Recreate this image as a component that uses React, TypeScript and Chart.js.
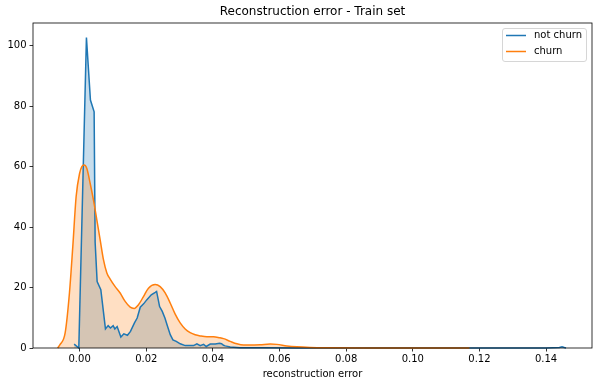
import React, { useEffect, useRef } from "react";
import { Chart, registerables } from "chart.js";

Chart.register(...registerables);

const TITLE = "Reconstruction error - Train set";
const X_LABEL = "reconstruction error";
const SERIES_NAMES = ["not churn", "churn"];

const notChurnX = [
  -0.00165, -0.00025, 0.00204, 0.00324, 0.00435, 0.00465, 0.00525, 0.00636, 0.00775, 0.00856,
  0.00925, 0.01006, 0.01057, 0.01126, 0.01237, 0.01327, 0.01435, 0.01526, 0.01646, 0.01727,
  0.0182, 0.0192, 0.0202, 0.0215, 0.0227, 0.0231, 0.024, 0.0248, 0.0256, 0.0264,
  0.0272, 0.028, 0.029, 0.0302, 0.0317, 0.0332, 0.0342, 0.0352, 0.0362, 0.0372,
  0.038, 0.0392, 0.0407, 0.042, 0.0426, 0.0432, 0.0437, 0.0452, 0.0482, 0.055,
  0.065, 0.1, 0.14, 0.144, 0.1448, 0.1455, 0.146,
];
const notChurnY = [
  1.3, 0.0, 102.7, 82, 78.1, 35, 22, 19.3, 6.3, 7.4,
  6.6, 7.4, 6.3, 7.1, 3.6, 4.7, 4.2, 5.5, 8.3, 9.9,
  13.5, 14.6, 16.0, 17.6, 18.4, 18.7, 13.7, 12.1, 9.9, 7.1,
  4.4, 2.7, 2.2, 1.4, 0.8, 0.8, 0.8, 1.4, 0.8, 1.2,
  0.5, 1.3, 1.3, 1.6, 1.4, 0.9, 0.7, 0.3, 0.1, 0.05,
  0, 0, 0, 0.2, 0.4, 0.15, 0,
];

const churnX = [
  -0.0066, -0.0059, -0.00435, -0.00306, -0.00205, -0.00105, 0.0, 0.00066, 0.00135, 0.00216,
  0.00315, 0.00414, 0.00516, 0.00616, 0.00715, 0.00817, 0.00916, 0.01066, 0.01216, 0.01366,
  0.01517, 0.01637, 0.01766, 0.01916, 0.02066, 0.02267, 0.02417, 0.02567, 0.02718, 0.02868,
  0.03018, 0.03168, 0.03318, 0.03468, 0.03619, 0.03819, 0.04019, 0.04199, 0.0432, 0.0452,
  0.0472, 0.0492, 0.0512, 0.0542, 0.0572, 0.0592, 0.0622, 0.0652, 0.0692, 0.0742,
  0.09, 0.117,
];
const churnY = [
  0, 1.1, 5.0, 18.2, 33.6, 50.1, 57.8, 60.0, 60.5, 59.4,
  54.5, 49, 42.4, 35.8, 29.2, 24.8, 22.8, 20.3, 18.2, 15.4,
  13.5, 13.1, 14.3, 17.0, 19.8, 21.0, 20.3, 18.2, 14.9, 11.2,
  8.3, 6.3, 5.1, 4.4, 4.0, 3.7, 3.7, 3.4, 3.1, 2.2,
  1.4, 1.0, 1.0, 1.1, 1.3, 1.2, 0.7, 0.4, 0.2, 0.1,
  0.03, 0,
];

const X_MIN = -0.014;
const X_MAX = 0.1538;
const X_STEP = 0.02;
const Y_MIN = 0;
const Y_MAX = 107.5;
const Y_STEP = 20;

const BLUE = "#1f77b4";
const ORANGE = "#ff7f0e";
const FONT = "'DejaVu Sans', sans-serif";

const framePlugin = {
  id: "frameAndText",
  afterDraw(chart: any) {
    const { ctx, chartArea } = chart;
    const { left, right, top, bottom } = chartArea;
    ctx.save();
    ctx.strokeStyle = "#000";
    ctx.lineWidth = 0.8;
    ctx.strokeRect(left, top, right - left, bottom - top);
    ctx.fillStyle = "#000";
    ctx.font = `12px ${FONT}`;
    ctx.textAlign = "center";
    ctx.textBaseline = "middle";
    ctx.fillText(TITLE, (left + right) / 2, 12);
    ctx.font = `10px ${FONT}`;
    ctx.fillText(X_LABEL, (left + right) / 2, 374);
    const bx = 502.5, by = 28.5, bw = 84, bh = 33, r = 2.5;
    ctx.beginPath();
    ctx.moveTo(bx + r, by);
    ctx.lineTo(bx + bw - r, by);
    ctx.arcTo(bx + bw, by, bx + bw, by + r, r);
    ctx.lineTo(bx + bw, by + bh - r);
    ctx.arcTo(bx + bw, by + bh, bx + bw - r, by + bh, r);
    ctx.lineTo(bx + r, by + bh);
    ctx.arcTo(bx, by + bh, bx, by + bh - r, r);
    ctx.lineTo(bx, by + r);
    ctx.arcTo(bx, by, bx + r, by, r);
    ctx.closePath();
    ctx.fillStyle = "rgba(255,255,255,0.8)";
    ctx.fill();
    ctx.strokeStyle = "#d6d6d6";
    ctx.lineWidth = 1;
    ctx.stroke();
    const colors = [BLUE, ORANGE];
    SERIES_NAMES.forEach((name, i) => {
      const ly = 35.5 + i * 16;
      ctx.strokeStyle = colors[i];
      ctx.lineWidth = 1.5;
      ctx.beginPath();
      ctx.moveTo(506, ly);
      ctx.lineTo(526, ly);
      ctx.stroke();
      ctx.fillStyle = "#000";
      ctx.textAlign = "left";
      ctx.font = `10px ${FONT}`;
      ctx.fillText(name, 534, ly);
    });
    ctx.restore();
  },
};

export default function App() {
  const ref = useRef<HTMLCanvasElement | null>(null);
  useEffect(() => {
    document.body.style.margin = "0";
    if (!ref.current) return;
    const blueData = notChurnX.map((x, i) => ({ x, y: notChurnY[i] }));
    const orangeData = churnX.map((x, i) => ({ x, y: churnY[i] }));
    const chart = new Chart(ref.current, {
      type: "line",
      data: {
        datasets: [
          {
            label: SERIES_NAMES[1],
            data: orangeData,
            borderColor: ORANGE,
            backgroundColor: "rgba(255,127,14,0.25)",
            borderWidth: 1.5,
            pointRadius: 0,
            fill: "origin",
            cubicInterpolationMode: "monotone",
            clip: { left: 0, top: 0, right: 0, bottom: 2 },
            order: 0,
          },
          {
            label: SERIES_NAMES[0],
            data: blueData,
            borderColor: BLUE,
            backgroundColor: "rgba(31,119,180,0.25)",
            borderWidth: 1.5,
            pointRadius: 0,
            fill: "origin",
            tension: 0,
            clip: { left: 0, top: 0, right: 0, bottom: 2 },
            order: 1,
          },
        ],
      },
      options: {
        responsive: false,
        animation: false,
        events: [],
        layout: { padding: { top: 23, right: 10, left: 0, bottom: 0 } },
        plugins: {
          legend: { display: false },
          title: { display: false },
          tooltip: { enabled: false },
          filler: { drawTime: "beforeDatasetsDraw" },
        },
        scales: {
          x: {
            type: "linear",
            min: X_MIN,
            max: X_MAX,
            border: { display: false },
            grid: {
              drawOnChartArea: false,
              drawTicks: true,
              tickLength: 3.5,
              color: "#000",
              lineWidth: 0.8,
            },
            ticks: {
              stepSize: X_STEP,
              includeBounds: false,
              maxRotation: 0,
              autoSkip: false,
              color: "#000",
              padding: 2,
              font: { family: FONT, size: 10 },
              callback: (v: any) => Number(v).toFixed(2),
            },
            afterFit: (s: any) => {
              s.height = 39;
            },
          },
          y: {
            type: "linear",
            min: Y_MIN,
            max: Y_MAX,
            border: { display: false },
            grid: {
              drawOnChartArea: false,
              drawTicks: true,
              tickLength: 3.5,
              color: "#000",
              lineWidth: 0.8,
            },
            ticks: {
              stepSize: Y_STEP,
              includeBounds: false,
              color: "#000",
              padding: 3,
              font: { family: FONT, size: 10 },
              callback: (v: any) => String(Math.round(Number(v))),
            },
            afterFit: (s: any) => {
              s.width = 33;
            },
          },
        },
      },
      plugins: [framePlugin],
    });
    return () => chart.destroy();
  }, []);
  return (
    <div style={{ width: 602, height: 387 }}>
      <canvas ref={ref} width={602} height={387} style={{ display: "block" }} />
    </div>
  );
}
